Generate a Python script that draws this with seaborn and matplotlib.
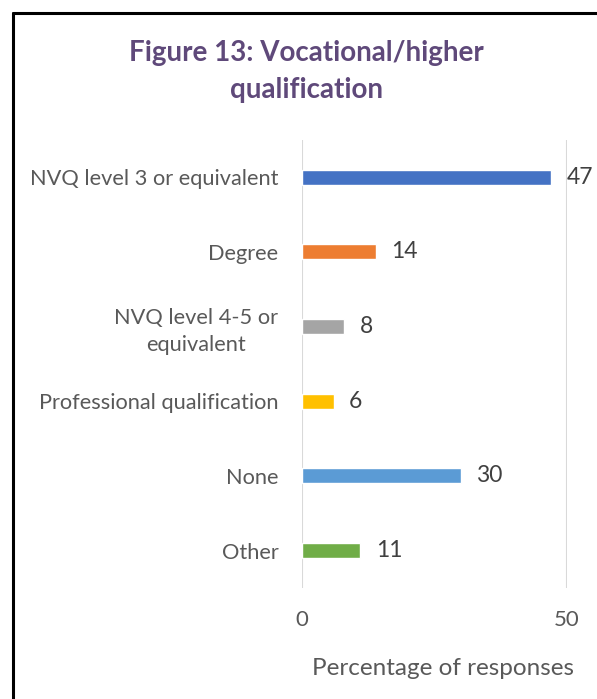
import pandas as pd
import numpy as np
import matplotlib.pyplot as plt
import seaborn as sns
from matplotlib.lines import Line2D

# Data
categories = ["NVQ level 3 or equivalent", "Degree", "NVQ level 4-5 or\nequivalent",
              "Professional qualification", "None", "Other"]
values = [47, 14, 8, 6, 30, 11]
colors = ["#4472C4", "#ED7D31", "#A5A5A5", "#FFC000", "#5B9BD5", "#70AD47"]

df = pd.DataFrame({"qualification": categories, "pct": values})

sns.set_style("white")
plt.rcParams['font.family'] = ['Lato', 'DejaVu Sans']

fig = plt.figure(figsize=(5.97, 6.99), dpi=100)
ax = fig.add_axes([0.506, 0.159, 0.444, 0.641])

sns.barplot(data=df, x="pct", y="qualification", hue="qualification",
            palette=colors, width=0.2, legend=False, ax=ax, saturation=1)

for cont in ax.containers:
    ax.bar_label(cont, padding=11, fontsize=16.5, color="#404040")

ax.set_xlim(0, 50)
ax.set_xticks([0, 50])
ax.grid(axis="x", color="#D9D9D9", linewidth=1.5)
ax.set_axisbelow(True)
for s in ax.spines.values():
    s.set_visible(False)
ax.tick_params(axis="x", length=0, pad=16, labelsize=16, labelcolor="#595959")
ax.tick_params(axis="y", length=0, pad=17, labelsize=15.7, labelcolor="#595959")
for lbl in ax.get_yticklabels():
    lbl.set_horizontalalignment("right")
    lbl.set_multialignment("center")
    lbl.set_linespacing(1.4)
ax.set_ylabel("")
ax.set_xlabel("Percentage of responses", fontsize=17.5, color="#595959", labelpad=20)
ax.xaxis.label.set_x(0.532)

fig.text(0.514, 0.898, "Figure 13: Vocational/higher\nqualification", ha="center", va="center",
         fontsize=20, fontweight="bold", color="#5F497A", linespacing=1.5)

# frame lines at left and top
fig.add_artist(Line2D([0.0218, 0.0218], [0, 0.9814], color="black", linewidth=2.2,
                      transform=fig.transFigure))
fig.add_artist(Line2D([0.0218, 1.0], [0.9814, 0.9814], color="black", linewidth=2.2,
                      transform=fig.transFigure))

fig.savefig("out.png", dpi=100)
